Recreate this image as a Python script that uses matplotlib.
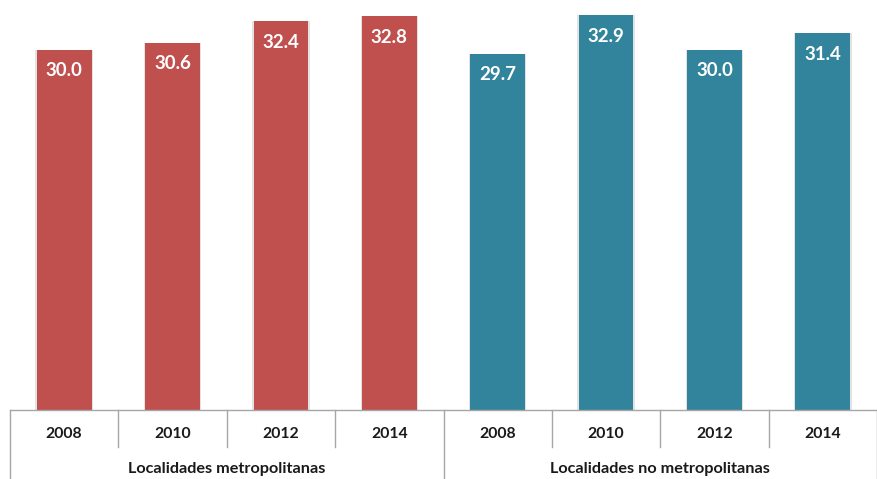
import matplotlib.pyplot as plt
from matplotlib.transforms import blended_transform_factory

# data
years = ['2008', '2010', '2012', '2014']
groups = ['Localidades metropolitanas', 'Localidades no metropolitanas']
metro = [30.0, 30.6, 32.4, 32.8]
no_metro = [29.7, 32.9, 30.0, 31.4]
colors = ['#C0504D', '#31849B']

plt.rcParams['font.family'] = ['Lato', 'DejaVu Sans']

fig = plt.figure(figsize=(8.77, 4.79), dpi=100)
ax = fig.add_axes([10 / 877, 69 / 479, 867 / 877, 410 / 479])

values = metro + no_metro
n = len(values)
xs = list(range(n))
bar_colors = [colors[0]] * len(metro) + [colors[1]] * len(no_metro)

# light shadow behind bars
ax.bar(xs, values, width=0.53, color='#e3e3e3', zorder=1)
bars = ax.bar(xs, values, width=0.505, color=bar_colors, zorder=2)
for b, v in zip(bars, values):
    ax.text(b.get_x() + b.get_width() / 2, v - 1.75, f'{v:.1f}', ha='center', va='center',
            color='white', fontsize=13.5, fontweight='bold', zorder=3)

ax.set_xlim(-0.5, n - 0.5)
ax.set_ylim(0, 410 / 12)
ax.axis('off')

# table-like category axis
tr = blended_transform_factory(ax.transData, ax.transAxes)
ax.plot([-0.5, n - 0.5], [0, 0], color='#a6a6a6', lw=1, transform=tr, clip_on=False)
y_in = -37 / 410
y_out = -69 / 410
for i in range(n + 1):
    x = i - 0.5
    full = (i % len(years) == 0)
    ax.plot([x, x], [0, y_out if full else y_in], color='#a6a6a6', lw=1,
            transform=tr, clip_on=False)
for i in range(n):
    ax.text(i, -24 / 410, years[i % len(years)], ha='center', va='center', transform=tr,
            fontsize=11.3, fontweight='bold', color='#1a1a1a')
for g, name in enumerate(groups):
    c = g * len(years) + (len(years) - 1) / 2
    ax.text(c, -59 / 410, name, ha='center', va='center', transform=tr,
            fontsize=11.7, fontweight='bold', color='#1a1a1a')

fig.savefig('out.png', dpi=100)
